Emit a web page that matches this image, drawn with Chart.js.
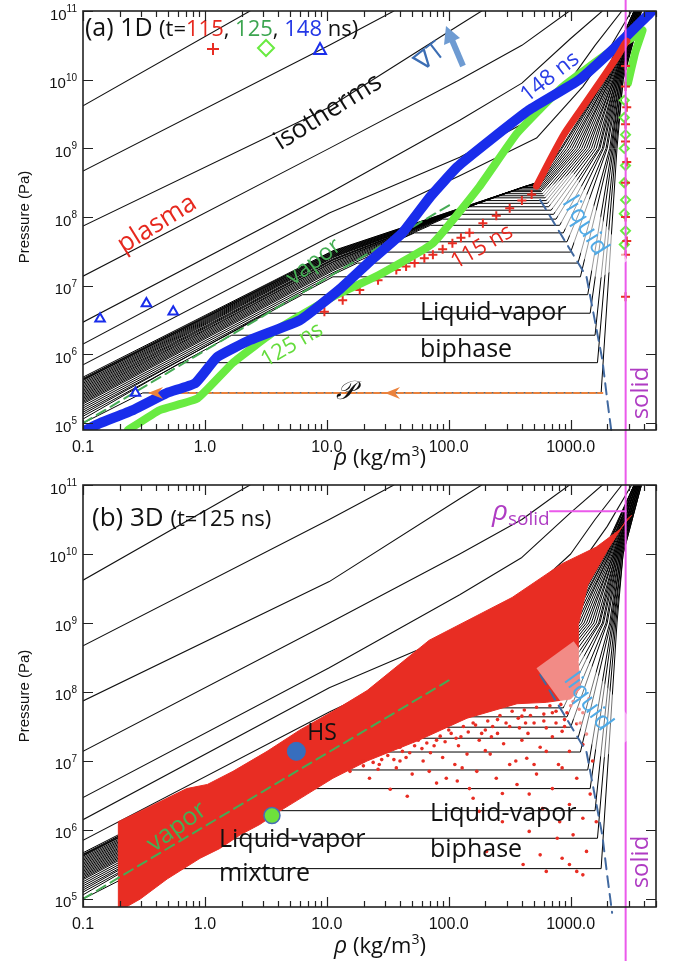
<!DOCTYPE html>
<html lang="en">
<head>
<meta charset="UTF-8">
<title>Aluminium phase diagram: 1D and 3D runs</title>
<script src="https://cdn.jsdelivr.net/npm/chart.js"></script>
<style>
  body { margin: 0; background: #fff; }
  canvas { position: absolute; left: 0; }
</style>
</head>
<body>
<canvas id="chartA" width="674" height="470" style="top:0"></canvas>
<canvas id="chartB" width="674" height="491" style="top:470px"></canvas>
<script>
// all values are log10(rho [kg/m3]), log10(P [Pa])

const xTickValues = [0.1, 1, 10, 100, 1000];
const xTickLabels = ['0.1', '1.0', '10.0', '100.0', '1000.0'];
const yTickExponents = [5, 6, 7, 8, 9, 10, 11];

// supercritical isotherms
const hotIsotherms = [
  [[-1, 9.62], [0.37, 11]],
  [[-1, 8.67], [1.02, 10.5], [1.55, 11]],
  [[-1, 7.87], [1.02, 9.6], [2.09, 10.8], [2.27, 11]],
  [[-1, 7.14], [1.02, 9.0], [2.09, 10.0], [2.6, 10.5], [2.99, 11]],
  [[-1, 6.47], [1.02, 8.35], [2.09, 9.41], [2.6, 9.95], [3.0, 10.6], [3.26, 11]],
  [[-1, 6.15], [1.02, 8.06], [2.09, 8.87], [2.6, 9.35], [3.0, 10.0], [3.2, 10.5], [3.42, 11]],
  [[-1, 5.85], [1.02, 7.71], [2.09, 8.6], [2.72, 9.15], [3.1, 9.9], [3.3, 10.4], [3.5, 11]]
];

// subcritical isotherms (vapor branch, plateau, liquid branch)
const bandLogP0 = [5.00, 5.06, 5.10, 5.13, 5.16, 5.19, 5.22, 5.25, 5.28, 5.30, 5.32, 5.34, 5.36, 5.38, 5.40,
  5.42, 5.44, 5.46, 5.48, 5.50, 5.52, 5.54, 5.56, 5.58, 5.60, 5.62, 5.63, 5.64, 5.65, 5.67];
const bandMidLogRho = 1.05;
const bandMidLogP = [null, null, null, null, null, null, 7.16, 7.19, 7.22, 7.24, 7.26, 7.28, 7.30, 7.32, 7.34,
  7.35, 7.37, 7.38, 7.39, 7.41, 7.42, 7.43, 7.44, 7.45, 7.46, 7.47, 7.48, 7.49, 7.50, 7.51];
const satLogP = [5.44, 5.88, 6.28, 6.60, 6.87, 7.13, 7.33, 7.49, 7.64, 7.77, 7.88, 7.97, 8.04, 8.10, 8.15,
  8.20, 8.24, 8.28, 8.31, 8.34, 8.37, 8.39, 8.41, 8.43, 8.45, 8.46, 8.47, 8.48, 8.49, 8.50];
const vapLogRho = [-0.51, -0.20, 0.22, 0.50, 0.80, 1.05, 1.25, 1.42, 1.58, 1.72, 1.85, 1.95, 2.03, 2.10, 2.17,
  2.23, 2.29, 2.35, 2.40, 2.45, 2.50, 2.54, 2.57, 2.60, 2.63, 2.65, 2.67, 2.69, 2.70, 2.72];
const liqLogRho = [3.25, 3.22, 3.20, 3.16, 3.14, 3.08, 3.06, 3.00, 2.97, 2.94, 2.91, 2.88, 2.86, 2.84, 2.82,
  2.81, 2.80, 2.79, 2.78, 2.77, 2.76, 2.755, 2.75, 2.745, 2.74, 2.735, 2.73, 2.725, 2.72, 2.72];
const liqLogRhoAt1e9 = [3.38, 3.37, 3.36, 3.35, 3.34, 3.33, 3.32, 3.30, 3.29, 3.27, 3.26, 3.24, 3.23, 3.21, 3.19,
  3.17, 3.15, 3.13, 3.11, 3.09, 3.07, 3.05, 3.03, 3.01, 2.99, 2.97, 2.95, 2.93, 2.92, 2.90];
const liqLogRhoAt1e10 = [3.43, 3.43, 3.42, 3.42, 3.41, 3.41, 3.40, 3.40, 3.39, 3.39, 3.38, 3.38, 3.37, 3.37, 3.36,
  3.36, 3.35, 3.35, 3.34, 3.33, 3.32, 3.32, 3.31, 3.30, 3.30, 3.29, 3.28, 3.28, 3.27, 3.26];
const liqLogRhoAt1e11 = [3.58, 3.58, 3.58, 3.57, 3.57, 3.57, 3.57, 3.56, 3.56, 3.56, 3.56, 3.55, 3.55, 3.55, 3.55,
  3.55, 3.54, 3.54, 3.54, 3.54, 3.54, 3.53, 3.53, 3.53, 3.53, 3.53, 3.52, 3.52, 3.52, 3.52];

const vaporLine = [[-1, 5.0], [2.03, 8.2]];
const liquidLine = [[2.75, 8.25], [3.13, 7.13], [3.26, 5.92], [3.30, 5.34], [3.34, 4.8]];
const pathLine = [[-0.45, 5.44], [3.26, 5.44]];
const solidLogRho = 3.451;
const solidMarkLogP = 10.62;

// (a) 1D runs
const blue148 = [[-1.0, 4.88], [-0.86, 5.0], [-0.59, 5.19], [-0.31, 5.44], [-0.08, 5.58], [0.1, 5.96], [0.37, 6.21],
  [0.78, 6.5], [1.1, 6.94], [1.35, 7.35], [1.62, 7.77], [1.85, 8.3], [2.07, 8.73], [2.34, 9.12], [2.66, 9.56],
  [3.07, 10.0], [3.40, 10.53], [3.65, 10.97], [3.70, 11.05]];
const blue148Stray = [[-0.86, 6.52], [-0.48, 6.74], [-0.26, 6.62], [-0.57, 5.44]];
const green125 = [[-0.63, 4.9], [-0.37, 5.19], [-0.06, 5.36], [0.23, 5.88], [0.59, 6.36], [1.05, 6.84], [1.43, 7.16],
  [1.87, 7.62], [2.25, 8.44], [2.56, 9.22], [2.93, 9.89], [3.34, 10.43], [3.57, 10.68], [3.59, 10.72],
  [3.53, 10.4], [3.47, 9.95]];
const green125Solid = [[3.44, 9.7], [3.44, 9.45], [3.45, 9.2], [3.44, 9.0], [3.45, 8.75], [3.44, 8.5], [3.45, 8.25],
  [3.44, 8.05], [3.45, 7.8], [3.44, 7.6]];
const red115 = [[2.72, 8.45], [2.83, 8.83], [2.95, 9.22], [3.11, 9.63], [3.28, 10.07], [3.39, 10.36], [3.44, 10.51],
  [3.46, 10.56]];
const red115Trail = [[2.68, 8.33], [2.60, 8.24], [2.50, 8.13], [2.39, 8.02], [2.28, 7.91], [2.17, 7.77], [2.10, 7.70],
  [2.03, 7.62], [1.95, 7.53], [1.87, 7.45], [1.80, 7.40], [1.72, 7.33], [1.65, 7.28], [1.57, 7.23], [1.42, 7.08],
  [1.27, 6.94], [1.13, 6.79], [0.98, 6.62]];
const red115Solid = [[3.45, 10.2], [3.45, 9.9], [3.46, 9.6], [3.45, 9.35], [3.45, 9.1], [3.46, 8.8], [3.45, 8.5],
  [3.45, 8.0], [3.46, 7.65], [3.45, 7.45], [3.45, 6.84]];

// (b) 3D run at 125 ns
const cloud3D = [[-0.71, 4.86], [-0.71, 6.12], [-0.45, 6.34], [-0.15, 6.60], [0.02, 6.66], [0.23, 6.85], [0.51, 7.14],
  [0.78, 7.45], [1.05, 7.72], [1.33, 8.02], [1.84, 8.75], [2.52, 9.37], [2.93, 9.86], [3.21, 10.1], [3.40, 10.35],
  [3.50, 10.56], [3.46, 10.5], [3.30, 10.05], [3.14, 9.55], [3.06, 8.96], [3.06, 8.45], [3.08, 8.05], [3.0, 7.9],
  [2.80, 7.85], [2.56, 7.83], [2.15, 7.62], [1.74, 7.29], [1.33, 7.0], [1.05, 6.75], [0.84, 6.52], [0.61, 6.27],
  [0.45, 6.08], [0.29, 5.93], [0.12, 5.73], [-0.04, 5.59], [-0.31, 5.29], [-0.53, 5.0], [-0.67, 4.86]];
const dots3D = [[1.35, 6.75], [1.52, 6.59], [1.66, 6.49], [1.79, 7.0], [1.84, 6.85], [1.98, 6.75], [2.11, 6.90],
  [2.17, 6.60], [2.23, 6.85], [2.34, 7.10], [2.39, 6.75], [2.44, 6.53], [2.50, 6.95], [2.56, 6.66], [2.64, 7.04],
  [2.66, 6.52], [2.72, 6.81], [2.77, 6.31], [2.80, 7.14], [2.85, 6.60], [2.91, 6.12], [2.93, 6.90], [2.99, 6.37],
  [3.02, 5.93], [3.05, 6.75], [3.10, 6.17], [3.13, 5.69], [2.93, 5.59], [2.99, 5.50], [3.05, 5.40], [3.10, 5.35],
  [2.80, 5.40], [2.61, 5.50], [2.75, 5.64], [2.89, 5.88], [2.66, 5.98], [2.44, 6.12], [2.25, 6.27], [2.20, 6.46],
  [2.31, 5.69], [2.07, 6.71], [1.90, 6.68], [1.70, 6.81], [1.57, 6.90], [1.43, 6.95], [1.30, 7.0], [1.19, 6.85],
  [2.99, 7.14], [3.10, 7.24], [3.18, 7.0], [3.16, 6.52], [3.21, 6.12], [2.80, 7.48], [2.93, 7.43], [3.05, 7.54],
  [3.13, 7.39], [1.4, 7.1], [1.6, 7.2], [1.75, 7.3], [1.9, 7.3], [2.0, 7.45], [2.1, 7.35], [2.2, 7.55], [2.3, 7.45],
  [2.4, 7.6], [2.5, 7.5], [2.6, 7.65], [2.7, 7.55], [2.45, 7.25], [2.6, 7.3], [2.75, 7.2], [2.85, 7.35], [2.3, 7.15],
  [2.15, 7.1], [1.95, 7.05], [1.65, 7.05], [2.55, 7.0], [2.7, 6.95], [2.9, 6.95], [2.05, 6.95], [2.65, 7.4],
  [2.85, 7.7], [2.95, 7.6], [3.0, 7.8], [3.1, 7.7], [3.15, 7.9],
  [1.30, 6.93], [1.38, 6.98], [1.45, 7.02], [1.50, 7.08], [1.55, 7.02], [1.62, 7.14], [1.68, 7.12], [1.72, 7.22],
  [1.78, 7.18], [1.82, 7.26], [1.88, 7.22], [1.93, 7.36], [1.97, 7.28], [2.02, 7.40], [2.06, 7.33], [2.12, 7.50],
  [2.16, 7.42], [2.22, 7.52], [2.27, 7.40], [2.32, 7.58], [2.36, 7.50], [2.42, 7.66], [2.47, 7.55], [2.52, 7.72],
  [2.57, 7.62], [2.62, 7.74], [2.67, 7.66], [2.72, 7.78], [2.78, 7.68], [2.83, 7.80], [2.88, 7.72], [2.92, 7.82],
  [2.97, 7.70], [3.02, 7.86], [3.07, 7.75], [1.42, 6.88], [1.60, 7.0], [1.85, 7.12], [2.08, 7.22], [2.35, 7.35],
  [2.58, 7.48], [2.78, 7.58], [2.95, 7.5], [3.08, 7.55], [2.40, 7.40], [2.63, 7.55], [2.88, 7.55], [2.25, 7.30]];
const hotSpot = [[0.75, 7.14]];
const mixturePoint = [[0.55, 6.21]];

// colours
const RED = 'rgb(232,45,35)', GREEN = 'rgb(105,235,65)', BLUE = 'rgb(25,45,235)';
const MAGENTA = 'rgb(235,90,235)', PURPLE = 'rgb(175,60,195)', LIQ = 'rgb(80,170,230)';
const SANS = '"Open Sans", "DejaVu Sans", sans-serif';
const AX = '"Liberation Sans", Arial, sans-serif';

const toPts = arr => arr.map(p => ({ x: 10 ** p[0], y: 10 ** p[1] }));

function lineSet(arr, color, width, extra) {
  return Object.assign({
    data: toPts(arr), showLine: true, borderColor: color, borderWidth: width,
    pointRadius: 0, fill: false, tension: 0, borderJoinStyle: 'round', borderCapStyle: 'round'
  }, extra || {});
}

function markSet(arr, style, color, radius, extra) {
  return Object.assign({
    data: toPts(arr), showLine: false, pointStyle: style, pointRadius: radius,
    borderColor: color, backgroundColor: 'rgba(0,0,0,0)', borderWidth: 2
  }, extra || {});
}

function subcriticalLines() {
  return satLogP.map((ps, i) => {
    const pts = [[-1, bandLogP0[i]]];
    if (bandMidLogP[i] !== null) pts.push([bandMidLogRho, bandMidLogP[i]]);
    pts.push([vapLogRho[i], ps], [liqLogRho[i], ps],
      [liqLogRhoAt1e9[i], 9], [liqLogRhoAt1e10[i], 10], [liqLogRhoAt1e11[i], 11]);
    return pts;
  });
}

function isothermSets() {
  return [
    ...hotIsotherms.map(a => lineSet(a, '#111', 1.1)),
    ...subcriticalLines().map(a => lineSet(a, '#000', 1))
  ];
}

const solidLine = () => lineSet([[solidLogRho, 3], [solidLogRho, 13]], MAGENTA, 2, { clip: false });
const vaporDash = () => lineSet(vaporLine, 'rgb(70,170,85)', 2, { borderDash: [10, 6] });
const liquidDash = () => lineSet(liquidLine, 'rgb(65,105,160)', 2,
  { borderDash: [11, 7], clip: { left: 0, top: 0, right: 0, bottom: 12 } });

// ---------- drawing helpers ----------
function txt(ctx, s, x, y, font, color, angle, align) {
  ctx.save();
  ctx.translate(x, y);
  if (angle) ctx.rotate(angle * Math.PI / 180);
  ctx.font = font;
  ctx.fillStyle = color;
  ctx.textAlign = align || 'center';
  ctx.textBaseline = 'middle';
  ctx.fillText(s, 0, 0);
  ctx.restore();
}

function segs(ctx, x, y, parts, center) {
  ctx.save();
  ctx.textBaseline = 'alphabetic';
  ctx.textAlign = 'left';
  if (center) {
    let w = 0;
    for (const [s, f] of parts) { ctx.font = f; w += ctx.measureText(s).width; }
    x -= w / 2;
  }
  for (const [s, f, c, dy] of parts) {
    ctx.font = f;
    ctx.fillStyle = c;
    ctx.fillText(s, x, y + (dy || 0));
    x += ctx.measureText(s).width;
  }
  ctx.restore();
}

function whiteBox(ctx, x, y, angle, w, h, alpha) {
  ctx.save();
  ctx.translate(x, y);
  ctx.rotate(angle * Math.PI / 180);
  ctx.fillStyle = 'rgba(255,255,255,' + alpha + ')';
  ctx.fillRect(-w / 2, -h / 2, w, h);
  ctx.restore();
}

function arrowLeft(ctx, x, y, color) {
  ctx.save();
  ctx.fillStyle = color;
  ctx.beginPath();
  ctx.moveTo(x, y);
  ctx.lineTo(x + 15, y - 6);
  ctx.lineTo(x + 10, y);
  ctx.lineTo(x + 15, y + 6);
  ctx.closePath();
  ctx.fill();
  ctx.restore();
}

function drawAxes(c, titleY, yTitleY) {
  const { ctx, chartArea: a, scales: { x, y } } = c;
  ctx.save();
  ctx.strokeStyle = '#222';
  ctx.lineWidth = 1.2;
  ctx.beginPath();
  for (let d = -1; d <= 3; d++) {
    for (let m = 1; m <= 9; m++) {
      const v = m * 10 ** d;
      if (v > x.max * 1.001) continue;
      const px = Math.round(x.getPixelForValue(v)) + 0.5;
      const len = m === 1 ? 10 : 6;
      ctx.moveTo(px, a.bottom); ctx.lineTo(px, a.bottom - len);
      ctx.moveTo(px, a.top); ctx.lineTo(px, a.top + len);
    }
  }
  for (const e of yTickExponents) {
    const py = Math.round(y.getPixelForValue(10 ** e)) + 0.5;
    ctx.moveTo(a.left, py); ctx.lineTo(a.left + 10, py);
    ctx.moveTo(a.right, py); ctx.lineTo(a.right - 10, py);
  }
  ctx.stroke();
  ctx.lineWidth = 1.6;
  ctx.strokeRect(a.left, a.top, a.right - a.left, a.bottom - a.top);

  // tick labels
  ctx.fillStyle = '#111';
  xTickValues.forEach((v, i) => {
    txt(ctx, xTickLabels[i], x.getPixelForValue(v), a.bottom + 18, '16px ' + AX, '#111');
  });
  for (const e of yTickExponents) {
    const py = y.getPixelForValue(10 ** e);
    ctx.font = '10px ' + AX;
    const ew = ctx.measureText(String(e)).width;
    ctx.textAlign = 'left';
    ctx.textBaseline = 'alphabetic';
    ctx.fillText(String(e), a.left - 6 - ew, py + 1);
    ctx.font = '15px ' + AX;
    ctx.textAlign = 'right';
    ctx.fillText('10', a.left - 6 - ew, py + 8.5);
  }
  // axis titles
  txt(ctx, 'Pressure (Pa)', 25, yTitleY, '15px ' + AX, '#111', -90);
  segs(ctx, 380, titleY, [['\u03C1', 'italic 23px ' + SANS, '#111'], [' (kg/m', '22px ' + SANS, '#111'],
    ['3', '14px ' + SANS, '#111', -9], [')', '22px ' + SANS, '#111']], true);
  ctx.restore();
}

function makeChart(id, datasets, pad, yMinLog, extras) {
  datasets.forEach((d, i) => { d.order = datasets.length - i; });
  return new Chart(document.getElementById(id), {
    type: 'scatter',
    data: { datasets },
    options: {
      responsive: false,
      animation: false,
      events: [],
      layout: { padding: pad },
      plugins: { legend: { display: false }, tooltip: { enabled: false } },
      scales: {
        x: { type: 'logarithmic', min: 0.1, max: 10 ** 3.7, display: false },
        y: { type: 'logarithmic', min: 10 ** yMinLog, max: 1e11, display: false }
      }
    },
    plugins: [{ id: 'extras', afterDatasetsDraw: extras }]
  });
}

// ---------- panel (a) ----------
const datasetsA = [
  ...isothermSets(),
  vaporDash(),
  liquidDash(),
  lineSet(pathLine, 'rgb(235,130,60)', 2, { borderDash: [5, 3] }),
  markSet(red115Trail, 'cross', RED, 4.5),
  lineSet(green125, GREEN, 8, { tension: 0.12 }),
  markSet(green125Solid, 'rectRot', GREEN, 4.5),
  markSet(red115Solid, 'cross', RED, 4.5),
  lineSet(blue148, BLUE, 10, { tension: 0.12 }),
  lineSet(red115, RED, 7, { tension: 0.12 }),
  markSet(blue148Stray, 'triangle', BLUE, 5.5),
  solidLine()
];

function extrasA(c) {
  const ctx = c.ctx, { x, y } = c.scales;
  whiteBox(ctx, 585, 226, 58, 104, 36, 0.6);
  txt(ctx, 'liquid', 585, 226, '25px ' + SANS, LIQ, 58);

  const F = '23px ' + SANS, F2 = '22px ' + SANS;
  segs(ctx, 85, 36, [['(a) 1D ', '25px ' + SANS, '#111'], ['(t=', F2, '#111'], ['115', F2, 'rgb(230,40,30)'],
    [', ', F2, '#111'], ['125', F2, 'rgb(60,165,80)'], [', ', F2, '#111'], ['148', F2, 'rgb(35,55,230)'],
    [' ns)', F2, '#111']]);

  // legend symbols
  ctx.save();
  ctx.lineWidth = 2;
  ctx.strokeStyle = RED;
  ctx.beginPath();
  ctx.moveTo(207, 49); ctx.lineTo(219, 49); ctx.moveTo(213, 43); ctx.lineTo(213, 55);
  ctx.stroke();
  ctx.strokeStyle = GREEN;
  ctx.beginPath();
  ctx.moveTo(266, 40); ctx.lineTo(274, 48); ctx.lineTo(266, 56); ctx.lineTo(258, 48); ctx.closePath();
  ctx.stroke();
  ctx.strokeStyle = BLUE;
  ctx.beginPath();
  ctx.moveTo(320, 43); ctx.lineTo(326, 54); ctx.lineTo(314, 54); ctx.closePath();
  ctx.stroke();
  ctx.restore();

  txt(ctx, 'isotherms', 328, 112, '26px ' + SANS, '#111', -32);
  txt(ctx, 'plasma', 157, 224, '26px ' + SANS, 'rgb(230,40,30)', -32);
  txt(ctx, 'vapor', 314, 262, F, 'rgb(70,175,85)', -37);
  txt(ctx, '125 ns', 292, 345, F2, 'rgb(100,220,60)', -30);
  txt(ctx, '115 ns', 482, 247, F2, 'rgb(230,40,30)', -30);
  txt(ctx, '148 ns', 550, 77, F2, 'rgb(40,60,230)', -38);
  txt(ctx, '\u2207T', 430, 57, '25px ' + SANS, 'rgb(60,110,180)', -38);

  // grad T arrow
  ctx.save();
  ctx.strokeStyle = 'rgb(110,155,210)';
  ctx.fillStyle = 'rgb(110,155,210)';
  ctx.lineWidth = 6;
  ctx.beginPath(); ctx.moveTo(463, 66); ctx.lineTo(452, 40); ctx.stroke();
  ctx.beginPath(); ctx.moveTo(446, 26); ctx.lineTo(444, 45); ctx.lineTo(460, 38); ctx.closePath(); ctx.fill();
  ctx.restore();

  txt(ctx, 'Liquid-vapor', 420, 313, '25px ' + SANS, '#111', 0, 'left');
  txt(ctx, 'biphase', 420, 350, '25px ' + SANS, '#111', 0, 'left');
  txt(ctx, 'solid', 641, 393, '24px ' + SANS, PURPLE, -90);

  // path P
  const py = y.getPixelForValue(10 ** pathLine[0][1]);
  arrowLeft(ctx, x.getPixelForValue(10 ** pathLine[0][0]) - 2, py, 'rgb(235,130,60)');
  arrowLeft(ctx, 385, py, 'rgb(235,130,60)');
  txt(ctx, '\uD835\uDCAB', 345, py - 1, 'italic 26px "DejaVu Serif", serif', '#111');

  drawAxes(c, 465, 217);
}

// ---------- panel (b) ----------
const datasetsB = [
  ...isothermSets(),
  lineSet(cloud3D, RED, 1, { fill: 'shape', backgroundColor: RED }),
  markSet(dots3D, 'circle', RED, 1.8, { backgroundColor: RED, borderWidth: 0 }),
  vaporDash(),
  liquidDash(),
  markSet(hotSpot, 'circle', 'rgb(55,110,190)', 9, { backgroundColor: 'rgb(55,110,190)', borderWidth: 1 }),
  markSet(mixturePoint, 'circle', 'rgb(70,110,180)', 8, { backgroundColor: 'rgb(110,225,60)', borderWidth: 1.5 }),
  lineSet([[2.83, solidMarkLogP], [solidLogRho, solidMarkLogP]], MAGENTA, 2),
  solidLine()
];

function extrasB(c) {
  const ctx = c.ctx;
  whiteBox(ctx, 588, 230, 54, 112, 46, 0.45);
  txt(ctx, 'liquid', 588, 232, '25px ' + SANS, LIQ, 54);

  segs(ctx, 92, 56, [['(b) 3D ', '26px ' + SANS, '#111'], ['(t=125 ns)', '22px ' + SANS, '#111']]);
  segs(ctx, 492, 50, [['\u03C1', 'italic 28px ' + SANS, PURPLE], ['solid', '19px ' + SANS, PURPLE, 5]]);

  txt(ctx, 'HS', 322, 263, '23px ' + SANS, '#111');
  txt(ctx, 'vapor', 177, 357, '25px ' + SANS, 'rgb(70,175,85)', -36);
  txt(ctx, 'Liquid-vapor', 219, 370, '25px ' + SANS, '#111', 0, 'left');
  txt(ctx, 'mixture', 219, 404, '25px ' + SANS, '#111', 0, 'left');
  txt(ctx, 'Liquid-vapor', 430, 344, '25px ' + SANS, '#111', 0, 'left');
  txt(ctx, 'biphase', 430, 380, '25px ' + SANS, '#111', 0, 'left');
  txt(ctx, 'solid', 641, 392, '24px ' + SANS, PURPLE, -90);

  drawAxes(c, 483, 226);
}

makeChart('chartA', datasetsA, { left: 83, right: 18, top: 11, bottom: 40 }, 4.9, extrasA);
makeChart('chartB', datasetsB, { left: 83, right: 18, top: 15, bottom: 54 }, 4.884, extrasB);
</script>
</body>
</html>
